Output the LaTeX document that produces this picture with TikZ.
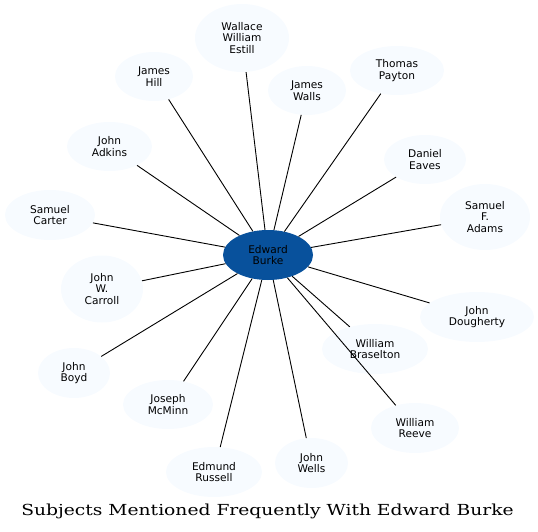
\documentclass[tikz,border=0pt]{standalone}
\usepackage{fontspec}
\setmainfont{DejaVu Sans}
\newfontfamily\titlefont{DejaVu Serif}
\usetikzlibrary{shapes.geometric}
\definecolor{leaf}{HTML}{F7FBFF}
\definecolor{hub}{HTML}{08519C}
\tikzset{
  person/.style={ellipse, fill=leaf, draw=none, inner sep=0pt, align=center,
    font=\fontsize{10.6}{11.8}\selectfont, text=black},
  hubnode/.style={person, fill=hub},
  link/.style={draw=black, line width=0.9pt},
}
\newcommand{\pnode}[6]{\node[#1, minimum width=#4pt, minimum height=#5pt] (#2) at (#3) {#6};}
\begin{document}
\begin{tikzpicture}[x=1pt,y=-1pt]
\useasboundingbox (0,0) rectangle (538,532);
\pnode{hubnode}{burke}{268,255}{90}{50}{Edward\\Burke}
\pnode{person}{estill}{242,38}{94}{68}{Wallace\\William\\Estill}
\pnode{person}{hill}{154,76.5}{78}{49}{James\\Hill}
\pnode{person}{walls}{307,90.5}{78}{49}{James\\Walls}
\pnode{person}{payton}{397,70.5}{94}{49}{Thomas\\Payton}
\pnode{person}{adkins}{109.5,146.5}{85}{49}{John\\Adkins}
\pnode{person}{eaves}{425,159.5}{82}{49}{Daniel\\Eaves}
\pnode{person}{carter}{50,215}{90}{50}{Samuel\\Carter}
\pnode{person}{adams}{485,217}{90}{66}{Samuel\\F.\\Adams}
\pnode{person}{carroll}{102,289}{82}{67}{John\\W.\\Carroll}
\pnode{person}{dougherty}{477,317}{114}{50}{John\\Dougherty}
\pnode{person}{braselton}{375,349}{106}{50}{William\\Braselton}
\pnode{person}{boyd}{74,373}{72}{50}{John\\Boyd}
\pnode{person}{mcminn}{168,404.5}{90}{49}{Joseph\\McMinn}
\pnode{person}{reeve}{415,428}{88}{50}{William\\Reeve}
\pnode{person}{russell}{214,472}{96}{50}{Edmund\\Russell}
\pnode{person}{wells}{311.5,463}{73}{50}{John\\Wells}
\foreach \t in {estill,hill,walls,payton,adkins,eaves,carter,adams,carroll,dougherty,braselton,boyd,mcminn,reeve,russell,wells}
  \draw[link] (burke) -- (\t);
\node[font=\titlefont\fontsize{15.2}{17}\selectfont, anchor=base, inner sep=0pt] (title) at (267.5,515) {\scalebox{1.23}[1]{Subjects Mentioned Frequently With Edward Burke}};
\end{tikzpicture}
\end{document}
